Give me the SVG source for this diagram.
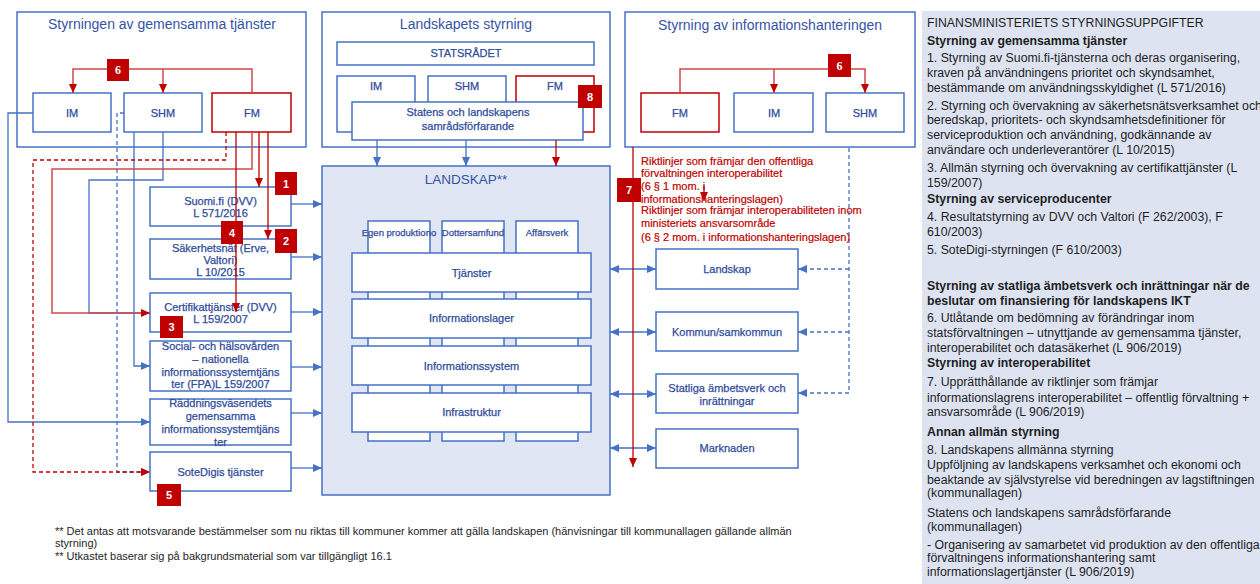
<svg xmlns="http://www.w3.org/2000/svg" width="1260" height="584" viewBox="0 0 1260 584">
<style>
.cont{fill:#fff;stroke:#4472C4;stroke-width:1.5}
.box{fill:#fff;stroke:#4472C4;stroke-width:1.5}
.rbox{fill:#fff;stroke:#C00000;stroke-width:1.5}
.t{font-family:"Liberation Sans",Arial,sans-serif;font-size:11px;fill:#2F4B9B;stroke:#2F4B9B;stroke-width:0.25;text-anchor:middle}
.ti{font-size:14px;fill:#3553A6;stroke:none}
.sm{font-size:9.5px}
.bl{stroke:#4472C4;stroke-width:1.3;fill:none}
.rd{stroke:#C00000;stroke-width:1.3;fill:none}
.rl{stroke:#D0494B;stroke-width:1.5;fill:none}
.da{stroke-dasharray:4 3}
.ab{marker-end:url(#ab)}
.ar{marker-end:url(#ar)}
.badge rect{fill:#C00000}
.badge text{font-family:"Liberation Sans",Arial,sans-serif;font-size:11px;font-weight:bold;fill:#fff;text-anchor:middle}
.badge text.sf{font-family:"Liberation Serif","Times New Roman",serif;font-size:12px}
.rt{font-family:"Liberation Sans",Arial,sans-serif;font-size:11px;fill:#C00000;stroke:#C00000;stroke-width:0.2}
.pt{font-family:"Liberation Sans",Arial,sans-serif;font-size:12.3px;fill:#1e1e1e}
.pt .b{font-weight:bold}
.nt{font-family:"Liberation Sans",Arial,sans-serif;font-size:11px;fill:#1e1e1e}
</style>
<defs>
<marker id="ab" viewBox="0 0 9 8" refX="9" refY="4" markerWidth="9" markerHeight="8" markerUnits="userSpaceOnUse" orient="auto-start-reverse"><path d="M0,0 L9,4 L0,8 z" fill="#4472C4"/></marker>
<marker id="ar" viewBox="0 0 9 8" refX="9" refY="4" markerWidth="9" markerHeight="8" markerUnits="userSpaceOnUse" orient="auto-start-reverse"><path d="M0,0 L9,4 L0,8 z" fill="#C00000"/></marker>
</defs>
<rect x="0" y="0" width="1260" height="584" fill="#fff"/>

<!-- right panel -->
<g id="panel">
<rect x="922" y="11" width="338" height="573" fill="#DDE3F1"/>
<text class="pt" x="927" y="27">FINANSMINISTERIETS STYRNINGSUPPGIFTER</text>
<text class="pt" x="927" y="45"><tspan class="b">Styrning av gemensamma tjänster</tspan></text>
<text class="pt" x="927" y="62">1. Styrning av Suomi.fi-tjänsterna och deras organisering,</text>
<text class="pt" x="927" y="77">kraven på användningens prioritet och skyndsamhet,</text>
<text class="pt" x="927" y="92">bestämmande om användningsskyldighet (L 571/2016)</text>
<text class="pt" x="927" y="110">2. Styrning och övervakning av säkerhetsnätsverksamhet och</text>
<text class="pt" x="927" y="124">beredskap, prioritets- och skyndsamhetsdefinitioner för</text>
<text class="pt" x="927" y="139">serviceproduktion och användning, godkännande av</text>
<text class="pt" x="927" y="154">användare och underleverantörer (L 10/2015)</text>
<text class="pt" x="927" y="172">3. Allmän styrning och övervakning av certifikattjänster (L</text>
<text class="pt" x="927" y="187">159/2007)</text>
<text class="pt" x="927" y="203"><tspan class="b">Styrning av serviceproducenter</tspan></text>
<text class="pt" x="927" y="221">4. Resultatstyrning av DVV och Valtori (F 262/2003), F</text>
<text class="pt" x="927" y="236">610/2003)</text>
<text class="pt" x="927" y="254">5. SoteDigi-styrningen (F 610/2003)</text>
<text class="pt" x="927" y="290"><tspan class="b">Styrning av statliga ämbetsverk och inrättningar när de</tspan></text>
<text class="pt" x="927" y="305"><tspan class="b">beslutar om finansiering för landskapens IKT</tspan></text>
<text class="pt" x="927" y="322">6. Utlåtande om bedömning av förändringar inom</text>
<text class="pt" x="927" y="337">statsförvaltningen – utnyttjande av gemensamma tjänster,</text>
<text class="pt" x="927" y="352">interoperabilitet och datasäkerhet (L 906/2019)</text>
<text class="pt" x="927" y="367"><tspan class="b">Styrning av interoperabilitet</tspan></text>
<text class="pt" x="927" y="386">7. Upprätthållande av riktlinjer som främjar</text>
<text class="pt" x="927" y="402">informationslagrens interoperabilitet – offentlig förvaltning +</text>
<text class="pt" x="927" y="416">ansvarsområde (L 906/2019)</text>
<text class="pt" x="927" y="436"><tspan class="b">Annan allmän styrning</tspan></text>
<text class="pt" x="927" y="454">8. Landskapens allmänna styrning</text>
<text class="pt" x="927" y="469">Uppföljning av landskapens verksamhet och ekonomi och</text>
<text class="pt" x="927" y="484">beaktande av självstyrelse vid beredningen av lagstiftningen</text>
<text class="pt" x="927" y="497">(kommunallagen)</text>
<text class="pt" x="927" y="517">Statens och landskapens samrådsförfarande</text>
<text class="pt" x="927" y="531">(kommunallagen)</text>
<text class="pt" x="927" y="549">- Organisering av samarbetet vid produktion av den offentliga</text>
<text class="pt" x="927" y="562">förvaltningens informationshantering samt</text>
<text class="pt" x="927" y="576">informationslagertjänster (L 906/2019)</text>
</g>

<!-- containers -->
<g id="cont-gemensamma">
<rect class="cont" x="17" y="12" width="289" height="135"/>
<text class="t ti" x="162" y="29">Styrningen av gemensamma tjänster</text>
</g>
<g id="cont-landskapets">
<rect class="cont" x="322" y="12" width="288" height="135"/>
<text class="t ti" x="466" y="29">Landskapets styrning</text>
</g>
<g id="cont-info">
<rect class="cont" x="625" y="12" width="290" height="135"/>
<text class="t ti" x="770" y="30">Styrning av informationshanteringen</text>
</g>

<!-- LANDSKAP -->
<g id="landskap-main">
<rect x="322" y="166" width="288" height="329" fill="#E0E6F4" stroke="#4472C4" stroke-width="1.5"/>
<text class="t ti" x="466" y="184" style="font-size:13.5px">LANDSKAP**</text>
<rect class="box" x="368" y="221" width="62" height="220"/>
<rect class="box" x="442" y="221" width="62" height="220"/>
<rect class="box" x="516" y="221" width="62" height="220"/>
<text class="t sm" x="399" y="236">Egen produktiono</text>
<text class="t sm" x="473" y="236">Dottersamfund</text>
<text class="t sm" x="547" y="236">Affärsverk</text>
</g>
<g id="layer-tjanster"><rect class="box" x="352" y="253" width="239" height="39"/><text class="t" x="471.5" y="277">Tjänster</text></g>
<g id="layer-infolager"><rect class="box" x="352" y="299" width="239" height="39"/><text class="t" x="471.5" y="322">Informationslager</text></g>
<g id="layer-infosystem"><rect class="box" x="352" y="346" width="239" height="39"/><text class="t" x="471.5" y="370">Informationssystem</text></g>
<g id="layer-infra"><rect class="box" x="352" y="393" width="239" height="39"/><text class="t" x="471.5" y="416">Infrastruktur</text></g>

<!-- top-left nodes -->
<g id="g-im"><rect class="box" x="33" y="93" width="78" height="39"/><text class="t" x="72" y="117">IM</text></g>
<g id="g-shm"><rect class="box" x="124" y="93" width="78" height="39"/><text class="t" x="163" y="117">SHM</text></g>
<g id="g-fm"><rect class="rbox" x="212" y="93" width="79" height="39"/><text class="t" x="252" y="117">FM</text></g>

<!-- middle nodes -->
<g id="l-statsradet"><rect class="box" x="337" y="42" width="257" height="23"/><text class="t" x="466" y="57">STATSRÅDET</text></g>
<g id="l-im"><rect class="box" x="337" y="76" width="78" height="56"/><text class="t" x="376" y="90">IM</text></g>
<g id="l-shm"><rect class="box" x="428" y="76" width="78" height="56"/><text class="t" x="467" y="90">SHM</text></g>
<g id="l-fm"><rect class="rbox" x="516" y="76" width="78" height="56"/><text class="t" x="555" y="90">FM</text></g>
<g id="l-samrad"><rect class="box" x="352" y="102" width="231" height="38"/><text class="t" x="468" y="116">Statens och landskapens</text><text class="t" x="468" y="130">samrådsförfarande</text></g>

<!-- top-right nodes -->
<g id="i-fm"><rect class="rbox" x="641" y="93" width="78" height="39"/><text class="t" x="680" y="117">FM</text></g>
<g id="i-im"><rect class="box" x="734" y="93" width="79" height="39"/><text class="t" x="774" y="117">IM</text></g>
<g id="i-shm"><rect class="box" x="826" y="93" width="78" height="39"/><text class="t" x="865" y="117">SHM</text></g>

<!-- left service nodes -->
<g id="s-suomi"><rect class="box" x="150" y="187" width="141" height="39"/><text class="t" x="220.5" y="205">Suomi.fi (DVV)</text><text class="t" x="220.5" y="217">L 571/2016</text></g>
<g id="s-sakerhet"><rect class="box" x="150" y="239" width="141" height="40"/><text class="t" x="220.5" y="252">Säkerhetsnät (Erve,</text><text class="t" x="220.5" y="264">Valtori)</text><text class="t" x="220.5" y="276">L 10/2015</text></g>
<g id="s-cert"><rect class="box" x="150" y="293" width="141" height="39"/><text class="t" x="220.5" y="311">Certifikattjänster (DVV)</text><text class="t" x="220.5" y="323">L 159/2007</text></g>
<g id="s-social"><rect class="box" x="150" y="341" width="141" height="50"/><text class="t" x="220.5" y="350">Social- och hälsovården</text><text class="t" x="220.5" y="363">– nationella</text><text class="t" x="220.5" y="376">informationssystemtjäns</text><text class="t" x="220.5" y="388">ter (FPA)L 159/2007</text></g>
<g id="s-radd"><rect class="box" x="150" y="399" width="141" height="46"/><text class="t" x="220.5" y="407">Räddningsväsendets</text><text class="t" x="220.5" y="420">gemensamma</text><text class="t" x="220.5" y="433">informationssystemtjäns</text><text class="t" x="220.5" y="446">ter</text></g>
<g id="s-sote"><rect class="box" x="150" y="452" width="141" height="39"/><text class="t" x="220.5" y="476">SoteDigis tjänster</text></g>

<!-- right target nodes -->
<g id="r-landskap"><rect class="box" x="656" y="249" width="142" height="40"/><text class="t" x="727" y="273">Landskap</text></g>
<g id="r-kommun"><rect class="box" x="656" y="312" width="142" height="39"/><text class="t" x="727" y="336">Kommun/samkommun</text></g>
<g id="r-statliga"><rect class="box" x="656" y="374" width="142" height="39"/><text class="t" x="727" y="392">Statliga ämbetsverk och</text><text class="t" x="727" y="405">inrättningar</text></g>
<g id="r-marknaden"><rect class="box" x="656" y="429" width="142" height="39"/><text class="t" x="727" y="452">Marknaden</text></g>

<!-- connectors -->
<g id="connectors">
<path class="rl ar" d="M252,93 V69 H73 V93"/>
<path class="rl ar" d="M163,69 V93"/>
<path class="rl ar" d="M680,93 V69 H865 V93"/>
<path class="rl ar" d="M774,69 V93"/>
<path class="bl ab" d="M377,140 V166"/>
<path class="bl ab" d="M466,140 V166"/>
<path class="rd ar" d="M556,140 V166"/>
<path class="bl ab" d="M33,113 H8 V422 H150"/>
<path class="bl da ab" d="M124,113 H117 V472 H150"/>
<path class="bl" d="M163,132 V180 H89 V313 H150"/>
<path class="bl ab" d="M134,132 V366 H150"/>
<path class="rd da ar" d="M226,132 V160 H33 V472 H150"/>
<path class="rl ar" d="M252,132 V169 H52 V313 H150"/>
<path class="rd ar" d="M236,132 V312"/>
<path class="rd ar" d="M259,132 V187"/>
<path class="rd ar" d="M268,132 V239"/>
<path class="bl ab" d="M291,204 H322"/>
<path class="bl ab" d="M291,257 H322"/>
<path class="bl ab" d="M291,312 H322"/>
<path class="bl ab" d="M291,367 H322"/>
<path class="bl ab" d="M291,413 H322"/>
<path class="bl ab" d="M291,468 H322"/>
<path class="bl ab" style="marker-start:url(#ab)" d="M610,269 H656"/>
<path class="bl ab" style="marker-start:url(#ab)" d="M610,332 H656"/>
<path class="bl ab" style="marker-start:url(#ab)" d="M610,394 H656"/>
<path class="bl ab" style="marker-start:url(#ab)" d="M610,448 H656"/>
<path class="bl da ab" d="M849,148 V393 H798"/>
<path class="bl da ab" d="M849,269 H798"/>
<path class="bl da ab" d="M849,332 H798"/>
<path class="rd ar" d="M633,147 V467"/>
<path class="rd ar" d="M704,186 V201"/>
</g>

<!-- red guideline text -->
<g id="riktlinjer">
<text class="rt" x="641" y="165">Riktlinjer som främjar den offentliga</text>
<text class="rt" x="641" y="177">förvaltningen interoperabilitet</text>
<text class="rt" x="641" y="190">(6 § 1 mom. i</text>
<text class="rt" x="641" y="203">informationshanteringslagen)</text>
<text class="rt" x="641" y="214">Riktlinjer som främjar interoperabiliteten inom</text>
<text class="rt" x="641" y="227">ministeriets ansvarsområde</text>
<text class="rt" x="641" y="241">(6 § 2 mom. i informationshanteringslagen)</text>
</g>

<!-- badges -->
<g id="badge-6a" class="badge"><rect x="107" y="59" width="22" height="22"/><text class="sf" x="118" y="74">6</text></g>
<g id="badge-8" class="badge"><rect x="578" y="85" width="24" height="23"/><text x="590" y="101">8</text></g>
<g id="badge-6b" class="badge"><rect x="828" y="54" width="23" height="23"/><text class="sf" x="839.5" y="70">6</text></g>
<g id="badge-1" class="badge"><rect x="275" y="172" width="22" height="23"/><text x="286" y="187.5">1</text></g>
<g id="badge-2" class="badge"><rect x="275" y="229" width="22" height="24"/><text x="286" y="245">2</text></g>
<g id="badge-4" class="badge"><rect x="221" y="221" width="22" height="23"/><text x="232" y="236.5">4</text></g>
<g id="badge-3" class="badge"><rect x="160" y="316" width="23" height="22"/><text x="171.5" y="331">3</text></g>
<g id="badge-5" class="badge"><rect x="157" y="484" width="24" height="22"/><text x="169" y="499">5</text></g>
<g id="badge-7" class="badge"><rect x="617" y="178" width="24" height="24"/><text x="629" y="194">7</text></g>

<!-- notes -->
<g id="notes">
<text class="nt" x="55" y="535">** Det antas att motsvarande bestämmelser som nu riktas till kommuner kommer att gälla landskapen (hänvisningar till kommunallagen gällande allmän</text>
<text class="nt" x="55" y="547">styrning)</text>
<text class="nt" x="55" y="560">** Utkastet baserar sig på bakgrundsmaterial som var tillgängligt 16.1</text>
</g>
</svg>
